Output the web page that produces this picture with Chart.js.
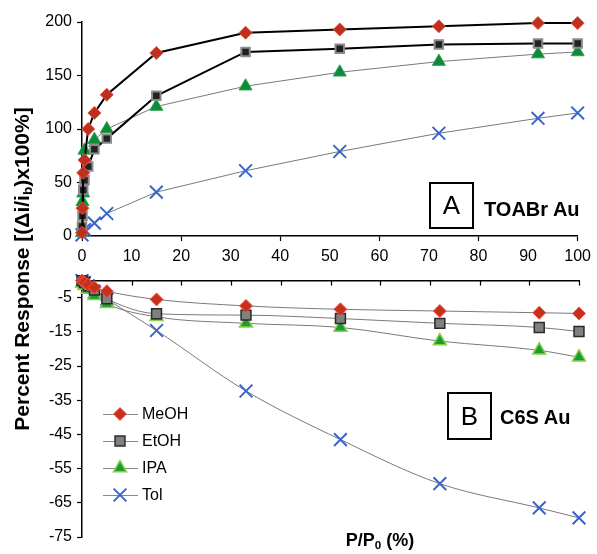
<!DOCTYPE html>
<html>
<head>
<meta charset="utf-8">
<script src="https://cdn.jsdelivr.net/npm/chart.js@4/dist/chart.umd.min.js"></script>
<style>
  html, body { margin: 0; padding: 0; background: #fff; }
  body { width: 597px; height: 554px; position: relative; overflow: hidden;
         font-family: "Liberation Sans", Arial, sans-serif; color: #000; }
  canvas { position: absolute; left: 0; }
  #chartA { top: 0; }
  #chartB { top: 266px; }
  .ytitle { position: absolute; left: -178px; top: 257px; width: 400px; height: 24px; line-height: 24px;
            text-align: center; font-weight: bold; font-size: 21px; transform: rotate(-90deg); white-space: nowrap; }
  .ytitle sub, .xtitle sub { font-size: 0.65em; vertical-align: -0.25em; }
  .xtitle { position: absolute; left: 300px; width: 160px; top: 530px; text-align: center;
            font-weight: bold; font-size: 18px; line-height: 20px; white-space: nowrap; }
  .box { position: absolute; border: 2px solid #000; box-sizing: border-box; text-align: center;
         font-size: 26px; }
  .tag { position: absolute; font-weight: bold; font-size: 20px; line-height: 24px; white-space: nowrap; }
</style>
</head>
<body>
<canvas id="chartA" width="597" height="270"></canvas>
<canvas id="chartB" width="597" height="288"></canvas>
<div class="ytitle">Percent Response [(Δi/i<sub>b</sub>)x100%]</div>
<div class="xtitle">P/P<sub>0</sub> (%)</div>
<div class="box" style="left:429px;top:182px;width:45px;height:47px;line-height:43px;">A</div>
<div class="tag" style="left:484px;top:197px;">TOABr Au</div>
<div class="box" style="left:447px;top:392px;width:45px;height:48px;line-height:44px;">B</div>
<div class="tag" style="left:500px;top:405px;">C6S Au</div>
<script>
// vapour pressure, % of saturation
const pressure = [0, 0.1, 0.25, 0.5, 1.25, 2.5, 5, 15, 33, 52, 72, 92, 100];

// panel A: TOABr Au
const meohA = [3, 26, 59, 71, 100, 115, 132, 171, 190, 193, 196, 199, 199];
const etohA = [9, 19, 43, 52, 65, 81, 91, 131, 172, 175, 179, 180, 180];
const ipaA  = [3, 32, 40, 80, null, 90, 100, 121, 140, 153, 163, 170, 172];
const tolA  = [1, null, null, 6, null, 12, 21, 41, 61, 79, 96, 110, 115];

// panel B: C6S Au
const meohB = [0, null, -0.3, -0.6, -1.2, -2.0, -3.1, -5.5, -7.4, -8.4, -8.9, -9.4, -9.6];
const etohB = [0, null, null, -0.5, -1.5, -2.8, -5.3, -9.7, -10.1, -11.1, -12.5, -13.7, -14.9];
const ipaB  = [-0.8, null, null, -1.5, -2.6, -4.4, -6.8, -10.6, -12.5, -13.7, -17.7, -20.4, -22.4];
const tolB  = [0, null, null, -0.6, -1.5, -3.3, -5.5, -14.6, -32.3, -46.5, -59.4, -66.5, -69.4];

const seriesNames = ['MeOH', 'EtOH', 'IPA', 'Tol'];
const xTicks = [0, 10, 20, 30, 40, 50, 60, 70, 80, 90, 100];
const yTicksA = [0, 50, 100, 150, 200];
const yTicksB = [-75, -65, -55, -45, -35, -25, -15, -5];

const FONT = '"Liberation Sans", Arial, sans-serif';

const markerA = {
  MeOH: { pointStyle: 'rectRot', pointRadius: 6.5, pointBackgroundColor: '#bd2f1f', pointBorderColor: '#e0503c', pointBorderWidth: 1 },
  EtOH: { pointStyle: 'rect', pointRadius: 6, pointBackgroundColor: '#222', pointBorderColor: '#8a8a8a', pointBorderWidth: 2 },
  IPA:  { pointStyle: 'triangle', pointRadius: 7.5, pointBackgroundColor: '#0e8a3c', pointBorderColor: '#2fa24a', pointBorderWidth: 1 },
  Tol:  { pointStyle: 'crossRot', pointRadius: 9, pointBackgroundColor: '#3a64c8', pointBorderColor: '#3a64c8', pointBorderWidth: 2 }
};
const markerB = {
  MeOH: { pointStyle: 'rectRot', pointRadius: 6.5, pointBackgroundColor: '#c8301e', pointBorderColor: '#ec5a44', pointBorderWidth: 1 },
  EtOH: { pointStyle: 'rect', pointRadius: 7, pointBackgroundColor: '#808080', pointBorderColor: '#2a2a2a', pointBorderWidth: 1.5 },
  IPA:  { pointStyle: 'triangle', pointRadius: 7.5, pointBackgroundColor: '#1e9a30', pointBorderColor: '#86d048', pointBorderWidth: 1.5 },
  Tol:  { pointStyle: 'crossRot', pointRadius: 9, pointBackgroundColor: '#3a64c8', pointBorderColor: '#3a64c8', pointBorderWidth: 2 }
};

function points(ys) {
  return pressure.map((x, i) => ({ x: x, y: ys[i] }));
}

function dataset(name, ys, marker, lineColor, lineWidth, smooth) {
  return Object.assign({
    label: name,
    data: points(ys),
    borderColor: lineColor,
    borderWidth: lineWidth,
    showLine: true,
    spanGaps: true,
    fill: false,
    clip: false,
    tension: 0,
    cubicInterpolationMode: smooth ? 'monotone' : 'default'
  }, marker);
}

function fixedTicks(list) {
  return function(scale) { scale.ticks = list.map(v => ({ value: v })); };
}

const tickFont = { family: FONT, size: 16 };

// inward tick marks for panel B's top x axis
const innerTicks = {
  id: 'innerTicks',
  afterDraw(chart) {
    const xs = chart.scales.x, ctx = chart.ctx, top = chart.chartArea.top;
    ctx.save();
    ctx.strokeStyle = '#000';
    ctx.lineWidth = 1.2;
    xTicks.forEach(v => {
      if (v === 0) return;
      const px = Math.round(xs.getPixelForValue(v)) + 0.5;
      ctx.beginPath();
      ctx.moveTo(px, top);
      ctx.lineTo(px, top + 5);
      ctx.stroke();
    });
    ctx.restore();
  }
};

// legend drawn inside panel B
const panelLegend = {
  id: 'panelLegend',
  afterDraw(chart) {
    const ctx = chart.ctx;
    ctx.save();
    chart.data.datasets.forEach((ds, i) => {
      const y = 148 + i * 27;
      ctx.strokeStyle = '#8a8a8a';
      ctx.lineWidth = 1;
      ctx.beginPath();
      ctx.moveTo(103, y + 0.5);
      ctx.lineTo(138, y + 0.5);
      ctx.stroke();
      ctx.fillStyle = ds.pointBackgroundColor;
      ctx.strokeStyle = ds.pointBorderColor;
      ctx.lineWidth = ds.pointBorderWidth;
      Chart.helpers.drawPoint(ctx, { pointStyle: ds.pointStyle, radius: ds.pointRadius, rotation: 0, borderWidth: ds.pointBorderWidth }, 120, y);
      ctx.fillStyle = '#000';
      ctx.font = '16px ' + FONT;
      ctx.textBaseline = 'middle';
      ctx.fillText(ds.label, 142, y + 1);
    });
    ctx.restore();
  }
};

new Chart(document.getElementById('chartA'), {
  type: 'scatter',
  data: {
    datasets: [
      dataset('MeOH', meohA, markerA.MeOH, '#000', 2),
      dataset('EtOH', etohA, markerA.EtOH, '#000', 2),
      dataset('IPA', ipaA, markerA.IPA, '#7a7a7a', 1),
      dataset('Tol', tolA, markerA.Tol, '#7a7a7a', 1)
    ]
  },
  options: {
    responsive: false,
    animation: false,
    layout: { padding: { top: 22, right: 18, left: 0, bottom: 0 } },
    plugins: { legend: { display: false }, tooltip: { enabled: false } },
    scales: {
      x: {
        type: 'linear', min: 0, max: 100,
        afterBuildTicks: fixedTicks(xTicks),
        afterFit: s => { s.height = 34; },
        grid: {
          drawOnChartArea: false, tickLength: 5, tickWidth: 1.2,
          tickColor: c => (c.tick && c.tick.value % 20 === 0) ? '#000' : 'rgba(0,0,0,0)'
        },
        border: { color: '#000', width: 1.5 },
        ticks: { font: tickFont, color: '#000', padding: 6, maxRotation: 0, autoSkip: false }
      },
      y: {
        min: 0, max: 200,
        afterBuildTicks: fixedTicks(yTicksA),
        afterFit: s => { s.width = 82; },
        grid: { drawOnChartArea: false, tickLength: 5, tickWidth: 1.2, tickColor: '#000' },
        border: { color: '#000', width: 1.5 },
        ticks: { font: tickFont, color: '#000', padding: 5 }
      }
    }
  }
});

new Chart(document.getElementById('chartB'), {
  type: 'scatter',
  data: {
    datasets: [
      dataset('MeOH', meohB, markerB.MeOH, '#7a7a7a', 1, true),
      dataset('EtOH', etohB, markerB.EtOH, '#7a7a7a', 1, true),
      dataset('IPA', ipaB, markerB.IPA, '#7a7a7a', 1, true),
      dataset('Tol', tolB, markerB.Tol, '#7a7a7a', 1, true)
    ]
  },
  options: {
    responsive: false,
    animation: false,
    layout: { padding: { top: 0, right: 18, left: 0, bottom: 17 } },
    plugins: { legend: { display: false }, tooltip: { enabled: false } },
    scales: {
      x: {
        type: 'linear', min: 0, max: 100, position: 'top',
        afterBuildTicks: fixedTicks(xTicks),
        afterFit: s => { s.height = 12; },
        grid: { drawOnChartArea: false, drawTicks: false },
        border: { color: '#000', width: 1.5 },
        ticks: { display: false }
      },
      y: {
        min: -75, max: 0,
        afterBuildTicks: fixedTicks(yTicksB),
        afterFit: s => { s.width = 82; },
        grid: { drawOnChartArea: false, tickLength: 5, tickWidth: 1.2, tickColor: '#000' },
        border: { color: '#000', width: 1.5 },
        ticks: { font: tickFont, color: '#000', padding: 5 }
      }
    }
  },
  plugins: [innerTicks, panelLegend]
});
</script>
</body>
</html>
